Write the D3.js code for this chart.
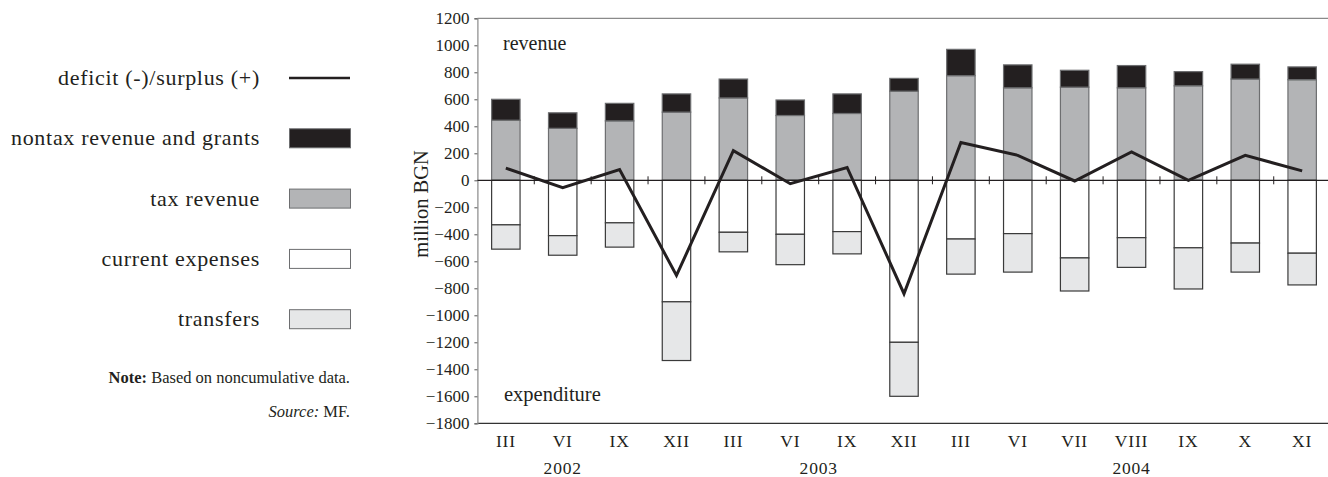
<!DOCTYPE html>
<html><head><meta charset="utf-8">
<script src="https://cdn.jsdelivr.net/npm/d3@7"></script>
<style>
html,body{margin:0;padding:0;background:#fff;}
svg{display:block;font-family:"Liberation Serif","Times New Roman",serif;}
</style></head>
<body>
<svg id="chart" width="1328" height="477"></svg>
<script>
const categories = ["III","VI","IX","XII","III","VI","IX","XII","III","VI","VII","VIII","IX","X","XI"];
const yearGroups = [{year:"2002",from:0,to:2},{year:"2003",from:4,to:7},{year:"2004",from:8,to:14}];
const taxRevenue    = [445,385,440,505,610,480,495,660,775,685,690,685,700,750,745];
const nontaxRevenue = [155,115,130,135,140,115,145,95,195,170,125,165,105,110,95];
const currentExpenses = [-330,-410,-315,-900,-385,-400,-380,-1200,-435,-395,-575,-425,-500,-465,-540];
const transfers       = [-180,-145,-180,-435,-145,-225,-165,-400,-260,-285,-245,-220,-305,-215,-235];
const balance = [90,-55,80,-705,220,-25,95,-840,280,185,-5,210,0,185,70];
const yTicks = d3.range(-1800,1201,200);

const legendItems = [
  {label:"deficit (-)/surplus (+)", type:"line", color:"#231f20"},
  {label:"nontax revenue and grants", type:"rect", color:"#231f20"},
  {label:"tax revenue", type:"rect", color:"#b3b4b6"},
  {label:"current expenses", type:"rect", color:"#ffffff"},
  {label:"transfers", type:"rect", color:"#e6e7e8"}
];

const svg = d3.select("#chart");
const x = d3.scaleBand().domain(d3.range(categories.length)).range([477.4,1330.6]).paddingInner(0.5).paddingOuter(0.25);
const y = d3.scaleLinear().domain([-1800,1200]).range([423.3,18.3]);
const left = 477.4, right = 1330.6;
const cx = i => x(i) + x.bandwidth()/2;

// frame lines
svg.append("line").attr("x1",left).attr("x2",right).attr("y1",y(1200)).attr("y2",y(1200)).attr("stroke","#8a8a8a").attr("stroke-width",1.2);
svg.append("line").attr("x1",left).attr("x2",right).attr("y1",y(-1800)).attr("y2",y(-1800)).attr("stroke","#333").attr("stroke-width",1.2);

// y axis
const yAxis = svg.append("g").attr("transform",`translate(${left},0)`)
  .call(d3.axisLeft(y).tickValues(yTicks).tickSize(3).tickPadding(5).tickFormat(d3.format("d")));
yAxis.select(".domain").attr("stroke","#8a8a8a").attr("stroke-width",1.2);
yAxis.selectAll(".tick line").attr("stroke","#555");
yAxis.selectAll("text").attr("font-size",17).attr("fill","#231f20").attr("font-family","Liberation Serif, serif");

// stacked bars
const stackRows = [
  {vals: taxRevenue, base: taxRevenue.map(()=>0), fill:"#b3b4b6", stroke:"#6d6e70"},
  {vals: nontaxRevenue, base: taxRevenue, fill:"#231f20", stroke:"#6d6e70"},
  {vals: currentExpenses, base: currentExpenses.map(()=>0), fill:"#ffffff", stroke:"#3a3a3a"},
  {vals: transfers, base: currentExpenses, fill:"#e6e7e8", stroke:"#3a3a3a"}
];
stackRows.forEach(row=>{
  svg.append("g").selectAll("rect").data(row.vals).join("rect")
    .attr("x",(d,i)=>x(i))
    .attr("width",x.bandwidth())
    .attr("y",(d,i)=>Math.min(y(row.base[i]),y(row.base[i]+d)))
    .attr("height",(d,i)=>Math.abs(y(row.base[i]+d)-y(row.base[i])))
    .attr("fill",row.fill).attr("stroke",row.stroke).attr("stroke-width",1.2);
});

// zero line + category ticks
svg.append("line").attr("x1",left).attr("x2",right).attr("y1",y(0)).attr("y2",y(0)).attr("stroke","#231f20").attr("stroke-width",1.2);
svg.append("g").selectAll("line").data(d3.range(1,categories.length)).join("line")
  .attr("x1",i=>x(i)-x.step()*x.paddingInner()/2).attr("x2",i=>x(i)-x.step()*x.paddingInner()/2)
  .attr("y1",y(0)-4).attr("y2",y(0)+4).attr("stroke","#231f20").attr("stroke-width",1);

// balance line
svg.append("path").datum(balance)
  .attr("d",d3.line().x((d,i)=>cx(i)).y(d=>y(d)))
  .attr("fill","none").attr("stroke","#231f20").attr("stroke-width",3).attr("stroke-linejoin","miter");

// category labels
svg.append("g").selectAll("text").data(categories).join("text")
  .attr("x",(d,i)=>cx(i)).attr("y",447).attr("text-anchor","middle")
  .attr("font-size",17.5).attr("letter-spacing",0.8).attr("fill","#231f20").text(d=>d);
svg.append("g").selectAll("text").data(yearGroups).join("text")
  .attr("x",d=>(cx(d.from)+cx(d.to))/2).attr("y",474).attr("text-anchor","middle")
  .attr("font-size",17.5).attr("letter-spacing",0.8).attr("fill","#231f20").text(d=>d.year);

// inner labels
svg.append("text").attr("x",503).attr("y",y(1000)+5).attr("font-size",20).attr("fill","#231f20").text("revenue");
svg.append("text").attr("x",504).attr("y",y(-1600)+5).attr("font-size",20.5).attr("fill","#231f20").text("expenditure");

// y title
svg.append("text").attr("transform",`translate(428,${(y(100)+y(-450))/2}) rotate(-90)`)
  .attr("text-anchor","middle").attr("font-size",20.5).attr("fill","#231f20").text("million BGN");

// legend
const lg = svg.append("g").selectAll("g").data(legendItems).join("g")
  .attr("transform",(d,i)=>`translate(0,${78+i*60.3})`);
lg.append("text").attr("x",260).attr("y",7).attr("text-anchor","end").attr("font-size",22)
  .attr("fill","#231f20").attr("letter-spacing",0.7).text(d=>d.label);
lg.filter(d=>d.type==="line").append("line").attr("x1",289).attr("x2",350).attr("y1",0).attr("y2",0)
  .attr("stroke",d=>d.color).attr("stroke-width",2.5);
lg.filter(d=>d.type==="rect").append("rect").attr("x",289.5).attr("y",-9.5).attr("width",61).attr("height",19)
  .attr("fill",d=>d.color).attr("stroke","#6d6e70").attr("stroke-width",1);

// notes
const note = svg.append("text").attr("x",350).attr("y",383).attr("text-anchor","end").attr("font-size",16.5).attr("fill","#231f20");
note.append("tspan").attr("font-weight","bold").text("Note:");
note.append("tspan").text(" Based on noncumulative data.");
const src = svg.append("text").attr("x",350).attr("y",417).attr("text-anchor","end").attr("font-size",16.5).attr("fill","#231f20");
src.append("tspan").attr("font-style","italic").text("Source:");
src.append("tspan").text(" MF.");
</script>
</body></html>
